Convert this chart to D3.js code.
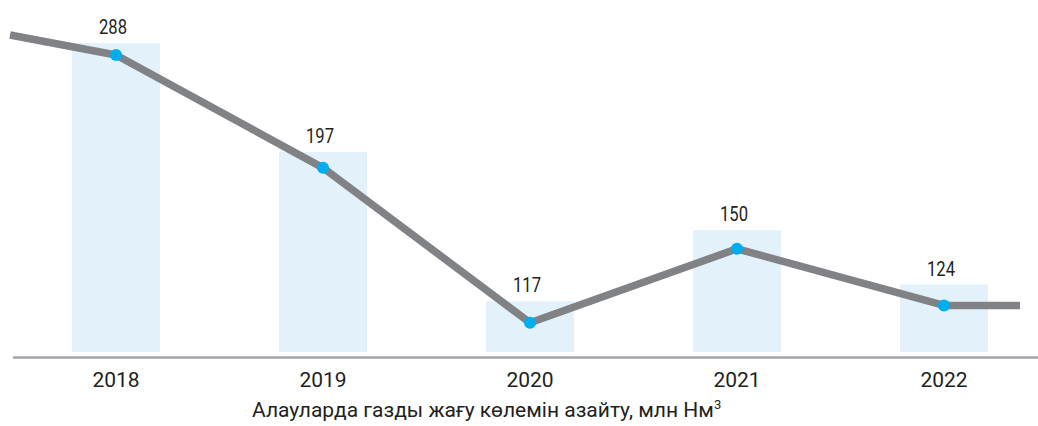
<!DOCTYPE html>
<html>
<head>
<meta charset="utf-8">
<script src="https://cdn.jsdelivr.net/npm/d3@7"></script>
<style>
  html, body { margin: 0; padding: 0; background: #fff; }
  svg { display: block; font-family: Roboto, 'Noto Sans', sans-serif; }
</style>
</head>
<body>
<div id="chart"></div>
<script>
'use strict'

const years = ['2018', '2019', '2020', '2021', '2022']
const values = [288, 197, 117, 150, 124]
// line runs in from the left edge and out to the right edge
const leadIn = 308
const leadOut = 124
const title = 'Алауларда газды жағу көлемін азайту, млн Нм'

const width = 1038
const height = 426
const baseY = 352
const axisY = 357.5
const left = 10
const right = 1020

const svg = d3.select('#chart').append('svg')
  .attr('width', width)
  .attr('height', height)

const x = d3.scaleBand()
  .domain(years)
  .range([12.5, 1047.5])
  .paddingInner(0.575)
  .paddingOuter(0.2875)

// bars and line in the source are not drawn to a linear scale
const yBar = d3.scaleLog().domain([98, 288]).range([baseY, 43])
const yLine = d3.scaleLog().domain([106, 288]).range([baseY, 55])

const cx = d => x(d) + x.bandwidth() / 2

svg.append('g')
  .selectAll('rect')
  .data(values)
  .enter()
  .append('rect')
  .attr('x', (d, i) => x(years[i]))
  .attr('y', d => yBar(d))
  .attr('width', x.bandwidth())
  .attr('height', d => baseY - yBar(d))
  .attr('fill', '#e3f2fa')

svg.append('line')
  .attr('x1', 13)
  .attr('x2', width)
  .attr('y1', axisY)
  .attr('y2', axisY)
  .attr('stroke', '#a3a5a8')
  .attr('stroke-width', 2.5)

const pts = [[left, yLine(leadIn)]]
  .concat(values.map((d, i) => [cx(years[i]), yLine(d)]))
  .concat([[right, yLine(leadOut)]])

svg.append('path')
  .attr('d', d3.line()(pts))
  .attr('fill', 'none')
  .attr('stroke', '#808285')
  .attr('stroke-width', 7.5)
  .attr('stroke-linejoin', 'round')

svg.append('g')
  .selectAll('circle')
  .data(values)
  .enter()
  .append('circle')
  .attr('cx', (d, i) => cx(years[i]))
  .attr('cy', d => yLine(d))
  .attr('r', 6)
  .attr('fill', '#00aeef')

svg.append('g')
  .selectAll('text')
  .data(values)
  .enter()
  .append('text')
  .attr('x', (d, i) => cx(years[i]) - 3)
  .attr('y', d => yBar(d) - 9)
  .attr('text-anchor', 'middle')
  .attr('font-size', 20)
  .attr('fill', '#231f20')
  .attr('textLength', 28)
  .attr('lengthAdjust', 'spacingAndGlyphs')
  .text(d => d)

svg.append('g')
  .selectAll('text')
  .data(years)
  .enter()
  .append('text')
  .attr('x', d => cx(d))
  .attr('y', 387)
  .attr('text-anchor', 'middle')
  .attr('font-size', 21)
  .attr('fill', '#231f20')
  .text(d => d)

const t = svg.append('text')
  .attr('x', 252)
  .attr('y', 417)
  .attr('font-size', 21)
  .attr('fill', '#231f20')
  .text(title)

t.append('tspan')
  .attr('font-size', 13)
  .attr('dy', -8)
  .text('3')
</script>
</body>
</html>
